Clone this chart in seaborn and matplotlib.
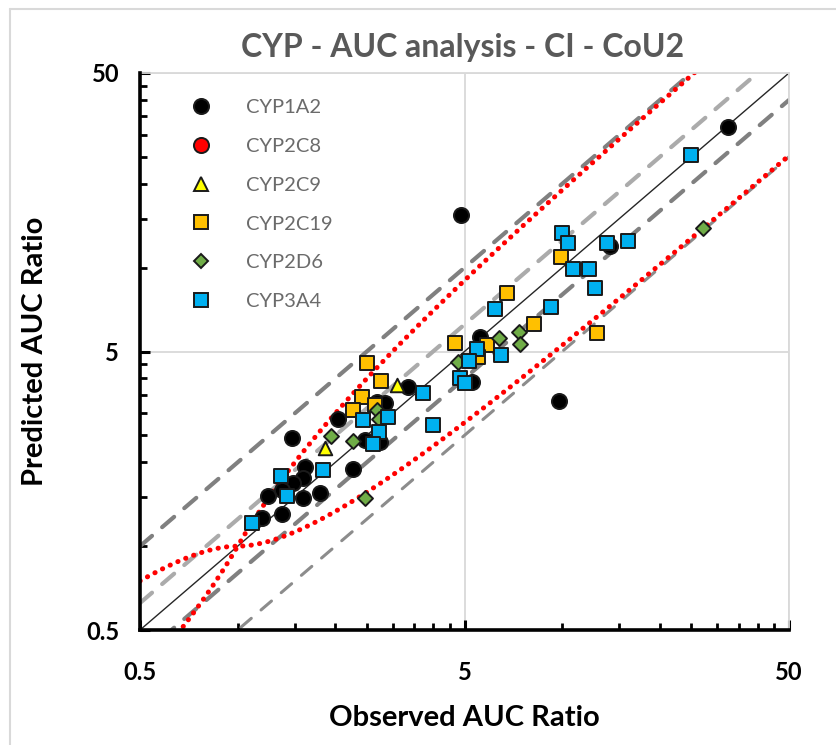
import numpy as np
import pandas as pd
import matplotlib
matplotlib.use("Agg")
import matplotlib.pyplot as plt
from matplotlib.lines import Line2D
from matplotlib.ticker import FixedLocator, FixedFormatter, NullFormatter
import seaborn as sns

# ---- observed / predicted AUC ratios per enzyme ----
cyp1a2_obs = [32.5, 4.88, 9.78, 14.0, 5.58, 5.27, 1.47, 1.61, 1.59, 1.48, 1.37, 1.24,
              1.59, 1.79, 1.37, 1.19, 2.27, 2.04, 3.36, 2.68, 2.84, 2.47, 2.75]
cyp1a2_pred = [32.1, 15.5, 3.32, 12.0, 5.64, 3.89, 2.44, 1.93, 1.75, 1.68, 1.59, 1.51,
               1.49, 1.55, 1.31, 1.26, 1.90, 2.86, 3.74, 3.30, 3.26, 2.41, 2.37]

cyp2c8_obs = []
cyp2c8_pred = []

cyp2c9_obs = [1.86, 3.09]
cyp2c9_pred = [2.25, 3.79]

cyp2c19_obs = [2.51, 2.76, 2.42, 2.26, 2.65, 6.75, 4.67, 5.85, 5.51, 8.2, 12.8, 9.92]
cyp2c19_pred = [4.54, 3.93, 3.44, 3.07, 3.21, 8.13, 5.38, 5.28, 4.79, 6.26, 5.84, 10.95]

cyp2d6_obs = [27.1, 6.40, 7.36, 7.4, 4.79, 1.94, 2.26, 2.68, 2.73, 2.47]
cyp2d6_pred = [13.85, 5.58, 5.87, 5.32, 4.6, 2.49, 2.39, 3.07, 2.85, 1.49]

cyp3a4_obs = [24.9, 10.0, 10.4, 13.7, 15.9, 10.8, 12.1, 12.6, 9.24, 6.21, 5.48, 6.46, 5.17,
              4.84, 5.02, 3.73, 2.91, 2.43, 2.73, 2.61, 4.0, 1.36, 1.83, 1.42, 1.11]
cyp3a4_pred = [25.4, 13.3, 12.3, 12.3, 12.5, 9.9, 9.9, 8.43, 7.24, 7.09, 5.12, 4.86, 4.64,
               4.0, 3.86, 3.56, 2.92, 2.84, 2.58, 2.32, 2.72, 1.79, 1.87, 1.51, 1.21]

enzymes = ["CYP1A2", "CYP2C8", "CYP2C9", "CYP2C19", "CYP2D6", "CYP3A4"]
observed = [cyp1a2_obs, cyp2c8_obs, cyp2c9_obs, cyp2c19_obs, cyp2d6_obs, cyp3a4_obs]
predicted = [cyp1a2_pred, cyp2c8_pred, cyp2c9_pred, cyp2c19_pred, cyp2d6_pred, cyp3a4_pred]

tick_values = [0.5, 5, 50]
tick_labels = ["0.5", "5", "50"]

# reference bounds
fold_outer = 2.0
fold_inner = 1.25
guest_delta = 1.0

# ---- styling ----
marker_style = {
    "CYP1A2": dict(marker="o", color="#000000", s=118),
    "CYP2C8": dict(marker="o", color="#FF0000", s=118),
    "CYP2C9": dict(marker="^", color="#FFFF00", s=95),
    "CYP2C19": dict(marker="s", color="#FFC000", s=112),
    "CYP2D6": dict(marker="D", color="#70AD47", s=58),
    "CYP3A4": dict(marker="s", color="#00B0F0", s=112),
}

sns.set_theme(style="white")
plt.rcParams["font.family"] = ["Lato", "DejaVu Sans"]

W, H = 836, 745
fig = plt.figure(figsize=(W / 100, H / 100), dpi=100)
ax = fig.add_axes([140 / W, 1 - 630 / H, 649 / W, 557 / H])

ax.set_xscale("log")
ax.set_yscale("log")
ax.set_xlim(0.5, 50)
ax.set_ylim(0.5, 50)

# reference lines
r = np.logspace(np.log10(0.5), np.log10(50), 600)
ax.plot(r, r, color="#262626", lw=1.0, zorder=2)
ax.plot(r, r * fold_outer, color="#808080", lw=3.0, ls=(0, (3.8, 3.2)),
        dash_capstyle="round", zorder=2)
ax.plot(r, r / fold_outer, color="#8C8C8C", lw=2.2, ls=(0, (4.5, 4.2)),
        dash_capstyle="round", zorder=2)
ax.plot(r, r * fold_inner, color="#ABABAB", lw=3.0, ls=(0, (3.8, 3.2)),
        dash_capstyle="round", zorder=2)
ax.plot(r, r / fold_inner, color="#808080", lw=3.0, ls=(0, (3.8, 3.2)),
        dash_capstyle="round", zorder=2)

r_sym = np.where(r >= 1, r, 1 / r)
guest = (guest_delta + 2 * (r_sym - 1)) / r_sym
ax.plot(r, r * guest, color="#FF0000", lw=3.6, ls=(0, (0.05, 1.65)),
        dash_capstyle="round", zorder=2.5)
ax.plot(r, r / guest, color="#FF0000", lw=3.6, ls=(0, (0.05, 1.65)),
        dash_capstyle="round", zorder=2.5)

# data points
for name, xs, ys in zip(enzymes, observed, predicted):
    st = marker_style[name]
    if len(xs) == 0:
        continue
    df = pd.DataFrame({"obs": xs, "pred": ys})
    sns.scatterplot(data=df, x="obs", y="pred", ax=ax, marker=st["marker"],
                    color=st["color"], s=st["s"], edgecolor="#1a1a1a",
                    linewidth=1.4, zorder=4, legend=False)

# axes decorations
ax.xaxis.set_major_locator(FixedLocator(tick_values))
ax.yaxis.set_major_locator(FixedLocator(tick_values))
ax.xaxis.set_major_formatter(FixedFormatter(tick_labels))
ax.yaxis.set_major_formatter(FixedFormatter(tick_labels))
minor = [b * k for b in (0.5, 5) for k in range(2, 10)]
ax.xaxis.set_minor_locator(FixedLocator(minor))
ax.yaxis.set_minor_locator(FixedLocator(minor))
ax.xaxis.set_minor_formatter(NullFormatter())
ax.yaxis.set_minor_formatter(NullFormatter())

ax.grid(True, which="major", color="#D9D9D9", lw=1.3, zorder=0)
ax.set_axisbelow(True)
for side in ("top", "right"):
    ax.spines[side].set_color("#D9D9D9")
    ax.spines[side].set_linewidth(1.3)
for side in ("left", "bottom"):
    ax.spines[side].set_color("#000000")
    ax.spines[side].set_linewidth(2.6)
    ax.spines[side].set_zorder(5)

ax.tick_params(which="major", direction="in", length=7, width=2.2, color="black",
               labelsize=17, labelcolor="black", left=True, bottom=True)
ax.tick_params(axis="x", which="major", pad=22)
ax.tick_params(axis="y", which="major", pad=15)
ax.tick_params(which="minor", direction="in", length=5, width=2.0, color="black",
               left=True, bottom=True)
for lab in ax.get_xticklabels() + ax.get_yticklabels():
    lab.set_fontweight("bold")

ax.set_xlabel("Observed AUC Ratio", fontsize=21, fontweight="bold", color="black")
ax.set_ylabel("Predicted AUC Ratio", fontsize=21, fontweight="bold", color="black")
ax.xaxis.label.set_va("center")
ax.yaxis.label.set_va("center")
ax.xaxis.set_label_coords(0.5, -(718 - 630) / 557)
ax.yaxis.set_label_coords(-(140 - 35) / 649, 0.5)

fig.text(463 / W, 1 - 47 / H, "CYP - AUC analysis - CI - CoU2", fontsize=23,
         fontweight="bold", color="#595959", ha="center", va="center")

# legend
handles = []
for name in enzymes:
    st = marker_style[name]
    ms = np.sqrt(st["s"])
    handles.append(Line2D([], [], ls="none", marker=st["marker"], markersize=ms,
                          markerfacecolor=st["color"], markeredgecolor="#1a1a1a",
                          markeredgewidth=1.4))
leg = ax.legend(handles, enzymes, loc="upper left", bbox_to_anchor=(0.05, 0.968),
                frameon=False, fontsize=14.5, labelspacing=1.08, handletextpad=1.25,
                borderaxespad=0)
for t in leg.get_texts():
    t.set_color("#6b6b6b")

# outer chart border
fig.add_artist(Line2D([10 / W, 10 / W], [0, 1 - 9 / H], color="#D9D9D9", lw=1.5))
fig.add_artist(Line2D([10 / W, 1], [1 - 9 / H, 1 - 9 / H], color="#D9D9D9", lw=1.5))

fig.savefig("out.png", dpi=100, facecolor="white")
